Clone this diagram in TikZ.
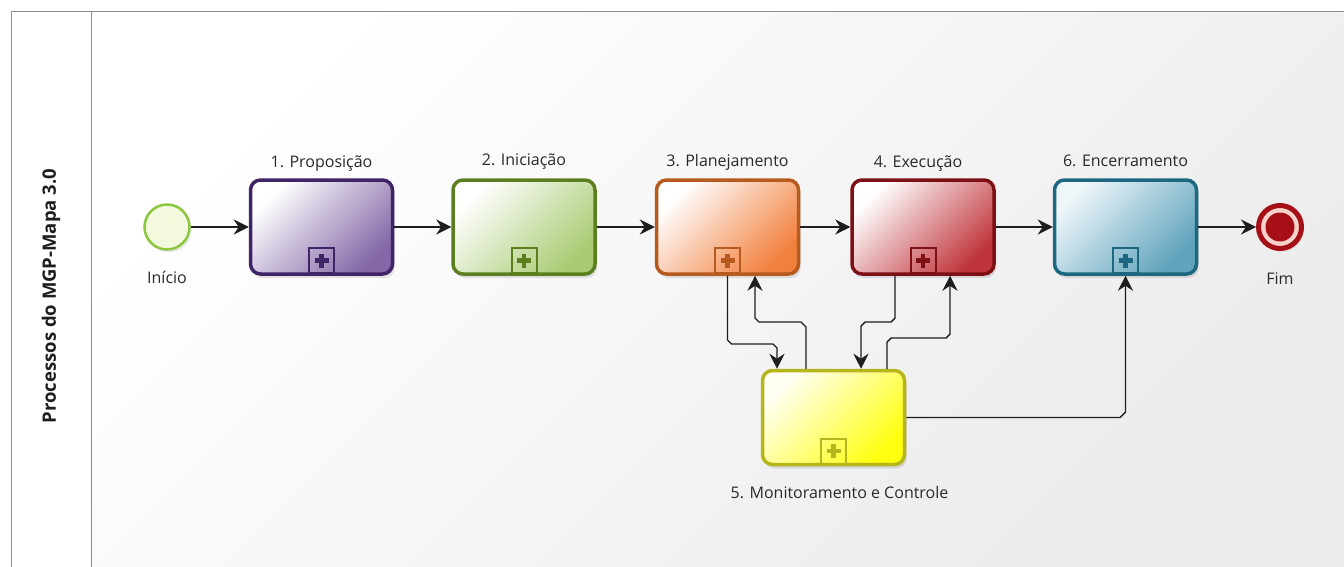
\documentclass[tikz,border=0pt]{standalone}
\usepackage{fontspec}
\setmainfont{Open Sans}
\usetikzlibrary{arrows.meta,shadows}

\definecolor{frameline}{HTML}{8C8C8C}
\definecolor{flowline}{HTML}{1E1E1E}
\definecolor{txt}{HTML}{2A2A2A}
\definecolor{purpleB}{HTML}{3F2466}\definecolor{purpleF}{HTML}{8468A8}
\definecolor{greenB}{HTML}{5B7F1E}\definecolor{greenF}{HTML}{A9CB73}
\definecolor{orangeB}{HTML}{B65A1E}\definecolor{orangeF}{HTML}{F2803D}
\definecolor{redB}{HTML}{7D1015}\definecolor{redF}{HTML}{C0353C}
\definecolor{tealB}{HTML}{1E6780}\definecolor{tealF}{HTML}{5FA3BC}\definecolor{tealT}{HTML}{EEF6FA}
\definecolor{yellowB}{HTML}{B5B51E}\definecolor{yellowF}{HTML}{FFFF10}\definecolor{yellowT}{HTML}{FFFFF4}
\definecolor{startB}{HTML}{8CC63F}\definecolor{startF}{HTML}{F2F9DC}
\definecolor{endB}{HTML}{A50F15}\definecolor{endF}{HTML}{F9D3CB}
\definecolor{poolEnd}{HTML}{EBEBEB}

\begin{document}
\begin{tikzpicture}[x=1pt,y=-1pt,
  task/.style n args={3}{draw=#1, line width=3.5pt, rounded corners=10pt,
    minimum width=142pt, minimum height=94pt, inner sep=0pt,
    top color=#3, bottom color=#2, shading angle=45,
    drop shadow={shadow xshift=2pt, shadow yshift=-4pt, opacity=0.10, fill=black}},
  marker/.style={draw=#1, line width=2pt, minimum size=25pt, inner sep=0pt, anchor=south,
    path picture={\draw[#1, line width=4.5pt]
      ([xshift=-7pt]path picture bounding box.center) -- ([xshift=7pt]path picture bounding box.center)
      ([yshift=-7pt]path picture bounding box.center) -- ([yshift=7pt]path picture bounding box.center);}},
  lbl/.style={font=\fontsize{16}{19}\selectfont, text=txt, inner sep=0pt, anchor=base},
  flow/.style={draw=flowline, line width=1.4pt, -{Stealth[length=15pt, width=15pt, inset=5pt]}},
  frame/.style={draw=frameline, line width=1pt}
]
\useasboundingbox (0,0) rectangle (1344,567);

% pool background and lane frame
\shade[top color=white, bottom color=poolEnd, shading angle=45] (91,12) rectangle (1344,567);
\draw[frame] (11,567) -- (11,12) -- (1344,12);
\draw[frame] (91,12) -- (91,567);
\node[rotate=90, font=\fontsize{18.5}{22}\selectfont\bfseries, text=flowline, inner sep=0pt] (lane) at (51,296) {Processos do MGP-Mapa 3.0};

% events
\node[circle, draw=startB, line width=2.5pt, fill=startF, minimum size=45pt, inner sep=0pt,
  drop shadow={shadow xshift=2pt, shadow yshift=-3pt, opacity=0.08, fill=black}] (start) at (167,227) {};
\node[circle, draw=endB, line width=5pt, fill=endF, minimum size=43pt, inner sep=0pt,
  drop shadow={shadow xshift=2pt, shadow yshift=-3pt, opacity=0.08, fill=black}] (end) at (1280,227) {};
\fill[endB] (end.center) circle (14.5);

% sub-processes
\node[task={purpleB}{purpleF}{white}] (b1) at (321.5,227) {};
\node[task={greenB}{greenF}{white}] (b2) at (524,227) {};
\node[task={orangeB}{orangeF}{white}] (b3) at (727.5,227) {};
\node[task={redB}{redF}{white}] (b4) at (923,227) {};
\node[task={tealB}{tealF}{tealT}] (b6) at (1125.5,227) {};
\node[task={yellowB}{yellowF}{yellowT}] (b5) at (833.5,417.5) {};

% collapsed sub-process markers
\node[marker=purpleB] (m1) at ([yshift=1.75pt]b1.south) {};
\node[marker=greenB] (m2) at ([yshift=1.75pt]b2.south) {};
\node[marker=orangeB] (m3) at ([yshift=1.75pt]b3.south) {};
\node[marker=redB] (m4) at ([yshift=1.75pt]b4.south) {};
\node[marker=tealB] (m6) at ([yshift=1.75pt]b6.south) {};
\node[marker=yellowB] (m5) at ([yshift=1.75pt]b5.south) {};

% labels
\node[lbl] (l1) at ([yshift=11pt]b1.north) {1. Proposição};
\node[lbl] (l2) at ([yshift=13pt]b2.north) {2. Iniciação};
\node[lbl] (l3) at ([yshift=12pt]b3.north) {3. Planejamento};
\node[lbl] (l4) at ([xshift=-5pt,yshift=11pt]b4.north) {4. Execução};
\node[lbl] (l6) at ([yshift=12pt]b6.north) {6. Encerramento};
\node[lbl] (l5) at ([xshift=6pt,yshift=-32pt]b5.south) {5. Monitoramento e Controle};
\node[lbl] (ls) at ([yshift=-33pt]start.south) {Início};
\node[lbl] (le) at ([yshift=-33pt]end.south) {Fim};

% sequence flows
\draw[flow] (start) -- (b1);
\draw[flow] (b1) -- (b2);
\draw[flow] (b2) -- (b3);
\draw[flow] (b3) -- (b4);
\draw[flow] (b4) -- (b6);
\draw[flow] (b6) -- (end);
\draw[flow] (b3.south) -- (727.5,340) -- (731.5,344) -- (773,344) -- (777,348) -- (777,0 |- b5.north);
\draw[flow] (806,0 |- b5.north) -- (806,327) -- (801,322) -- (759,322) -- (755,318) -- (755,0 |- b3.south);
\draw[flow] (895,0 |- b4.south) -- (895,318) -- (891,322) -- (865,322) -- (861,326) -- (861,0 |- b5.north);
\draw[flow] (887,0 |- b5.north) -- (887,342) -- (891,338) -- (946,338) -- (950,334) -- (950,0 |- b4.south);
\draw[flow] (b5.east) -- (1120,417.5) -- (1125.5,412) -- (b6.south);
\end{tikzpicture}
\end{document}
